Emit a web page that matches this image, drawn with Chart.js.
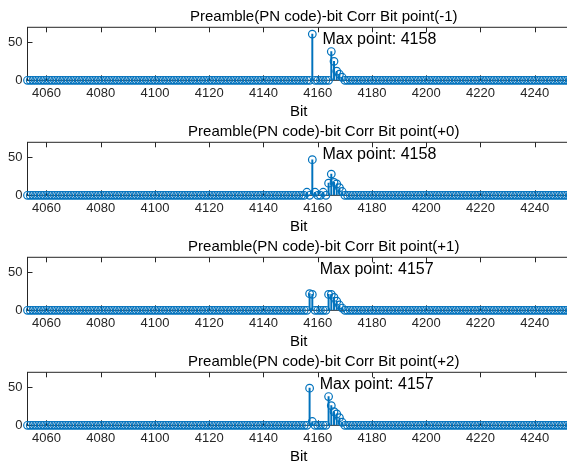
<!DOCTYPE html>
<html>
<head>
<meta charset="utf-8">
<script src="https://cdn.jsdelivr.net/npm/chart.js@4/dist/chart.umd.min.js"></script>
<style>
  html, body { margin: 0; padding: 0; background: #fff; overflow: hidden; width: 567px; height: 463px; }
  .panel { position: absolute; left: 0; width: 600px; height: 125px; }
</style>
</head>
<body>
<div class="panel" style="top:0px"><canvas id="p0" width="600" height="125"></canvas></div>
<div class="panel" style="top:115px"><canvas id="p1" width="600" height="125"></canvas></div>
<div class="panel" style="top:230px"><canvas id="p2" width="600" height="125"></canvas></div>
<div class="panel" style="top:345px"><canvas id="p3" width="600" height="125"></canvas></div>
<script>
// Bit window shown on every panel
const firstBit = 4053;
const lastBit = 4253;
const xTickValues = [4060, 4080, 4100, 4120, 4140, 4160, 4180, 4200, 4220, 4240];
const yTickValues = [0, 50];
const yMax = 70;

const panelTitles = [
  'Preamble(PN code)-bit Corr Bit point(-1)',
  'Preamble(PN code)-bit Corr Bit point(+0)',
  'Preamble(PN code)-bit Corr Bit point(+1)',
  'Preamble(PN code)-bit Corr Bit point(+2)'
];

// Non-zero correlation samples as [bit, value]; every other bit is 0
const corrMinus1 = [[4158, 61], [4165, 38], [4166, 25], [4167, 12], [4168, 8], [4169, 4]];
const corrPlus0 = [[4156, 4], [4158, 47], [4159, 4], [4162, 4], [4164, 16], [4165, 28],
                   [4166, 17], [4167, 15], [4168, 10], [4169, 5]];
const corrPlus1 = [[4157, 22], [4158, 21], [4164, 21], [4165, 21], [4166, 17], [4167, 12],
                   [4168, 7], [4169, 3]];
const corrPlus2 = [[4157, 49], [4158, 5], [4164, 38], [4165, 26], [4166, 18], [4167, 15],
                   [4168, 10], [4169, 4]];

const labelY = 54;   // height of the "Max point" note, in data units

const STEM = '#0072BD';
const AXIS = '#262626';
const FONT = "'Liberation Sans', Arial, Helvetica, sans-serif";
const TICK_LEN = 5;

Chart.defaults.font.family = FONT;
Chart.defaults.animation = false;

function makePanel(canvasId, title, samples) {
  const lookup = new Map(samples);
  const points = [];
  for (let b = firstBit; b <= lastBit; b++) {
    points.push({ x: b, y: lookup.has(b) ? lookup.get(b) : 0 });
  }
  const peak = points.reduce((best, p) => (p.y > best.y ? p : best), points[0]);

  const frame = {
    id: 'frame',
    beforeDatasetsDraw(chart) {
      const { ctx, chartArea: a, scales: { x, y } } = chart;
      ctx.save();
      ctx.strokeStyle = AXIS;
      ctx.lineWidth = 1;
      ctx.strokeRect(a.left, a.top, a.right - a.left, a.bottom - a.top);
      ctx.beginPath();
      xTickValues.forEach(v => {
        const px = Math.round(x.getPixelForValue(v)) + 0.5;
        ctx.moveTo(px, a.top); ctx.lineTo(px, a.top + TICK_LEN);
        ctx.moveTo(px, a.bottom); ctx.lineTo(px, a.bottom - TICK_LEN);
      });
      yTickValues.forEach(v => {
        const py = Math.round(y.getPixelForValue(v)) + 0.5;
        ctx.moveTo(a.left, py); ctx.lineTo(a.left + TICK_LEN, py);
      });
      ctx.stroke();
      ctx.restore();
    },
    afterDraw(chart) {
      const { ctx, chartArea: a, scales: { x, y } } = chart;
      ctx.save();
      ctx.fillStyle = '#000';
      ctx.font = '15px ' + FONT;
      ctx.textAlign = 'center';
      ctx.textBaseline = 'middle';
      ctx.fillText(title, (a.left + a.right) / 2 + 25, a.top - 10);
      ctx.font = '16px ' + FONT;
      ctx.textAlign = 'left';
      ctx.fillText('Max point: ' + peak.x, x.getPixelForValue(peak.x + 3) + 2, y.getPixelForValue(labelY));
      ctx.restore();
    }
  };

  return new Chart(document.getElementById(canvasId), {
    type: 'bar',
    data: {
      datasets: [
        {
          type: 'bar',
          data: points,
          backgroundColor: STEM,
          borderWidth: 0,
          barThickness: 1.3,
          order: 2
        },
        {
          type: 'scatter',
          data: points,
          showLine: false,
          pointStyle: 'circle',
          pointRadius: 3.8,
          pointHoverRadius: 3.8,
          pointBorderWidth: 1.2,
          pointBorderColor: STEM,
          pointBackgroundColor: 'rgba(0,0,0,0)',
          clip: false,
          order: 1
        }
      ]
    },
    options: {
      responsive: false,
      devicePixelRatio: 1,
      animation: false,
      layout: { padding: { top: 27.3, right: 30, bottom: 0, left: 0 } },
      plugins: { legend: { display: false }, title: { display: false }, tooltip: { enabled: false } },
      events: [],
      scales: {
        x: {
          type: 'linear',
          min: firstBit,
          max: lastBit,
          offset: false,
          afterBuildTicks: s => { s.ticks = xTickValues.map(v => ({ value: v })); },
          afterFit: s => { s.height = 44.7; },
          grid: { display: false, drawTicks: false },
          border: { display: false },
          ticks: {
            color: AXIS, font: { size: 13 }, padding: 5, maxRotation: 0, autoSkip: false,
            callback: v => String(v)
          },
          title: { display: true, text: 'Bit', color: '#000', font: { size: 15 }, padding: { top: 0, bottom: 4 } }
        },
        y: {
          type: 'linear',
          min: 0,
          max: yMax,
          afterBuildTicks: s => { s.ticks = yTickValues.map(v => ({ value: v })); },
          afterFit: s => { s.width = 27.5; },
          grid: { display: false, drawTicks: false },
          border: { display: false },
          ticks: { color: AXIS, font: { size: 13 }, padding: 5, callback: v => String(v) }
        }
      }
    },
    plugins: [frame]
  });
}

makePanel('p0', panelTitles[0], corrMinus1);
makePanel('p1', panelTitles[1], corrPlus0);
makePanel('p2', panelTitles[2], corrPlus1);
makePanel('p3', panelTitles[3], corrPlus2);
</script>
</body>
</html>
